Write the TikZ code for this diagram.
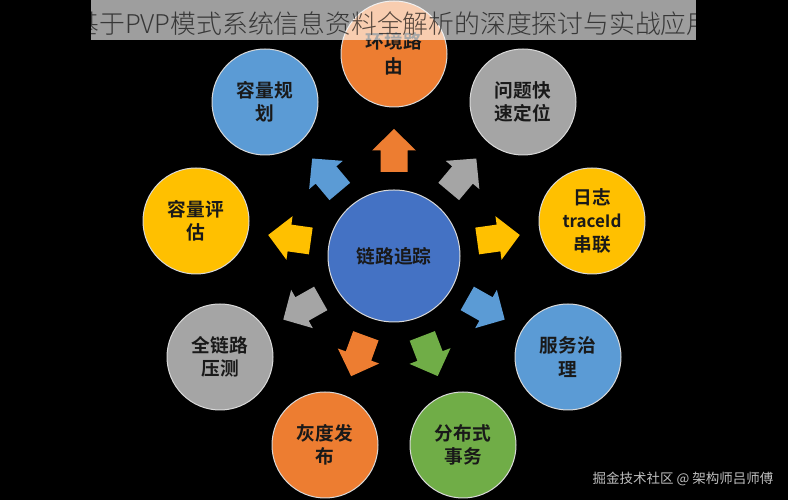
\documentclass[tikz,border=0pt]{standalone}
\usepackage{fontspec}
\setmainfont{Noto Sans CJK SC}
\newfontfamily\boldcjk{Noto Sans CJK SC Bold}
\newfontfamily\thincjk{Noto Sans CJK SC Light}
\usetikzlibrary{calc}
\definecolor{cOrange}{HTML}{ED7D31}
\definecolor{cBlue}{HTML}{5B9BD5}
\definecolor{cGray}{HTML}{A5A5A5}
\definecolor{cYellow}{HTML}{FFC000}
\definecolor{cGreen}{HTML}{70AD47}
\definecolor{cCenter}{HTML}{4472C4}
\tikzset{
	topic/.style={circle, draw=white!85!black, line width=1pt, minimum size=106pt, inner sep=0pt, align=center, text=black!90, font=\boldcjk\fontsize{18.7}{23.5}\selectfont},
	hub/.style={topic, minimum size=132pt},
}

\begin{document}
\begin{tikzpicture}[x=1pt, y=1pt]
			\useasboundingbox (0,0) rectangle (788,500);
			\fill[black] (0,0) rectangle (788,500);
			% outer ring
			\node[topic, fill=cOrange] (route) at (394,446) {环境路\\[1.5pt]由};
			\node[topic, fill=cBlue] (plan) at (265,398) {容量规\\划};
			\node[topic, fill=cGray] (locate) at (523,398) {问题快\\速定位};
			\node[topic, fill=cYellow] (assess) at (196,279) {容量评\\估};
			\node[topic, fill=cYellow] (trace) at (592,279) {日志\\{\fontsize{17}{23.5}\selectfont traceId}\\串联};
			\node[topic, fill=cGray] (stress) at (220,143) {全链路\\压测};
			\node[topic, fill=cBlue] (govern) at (568,143) {服务治\\理};
			\node[topic, fill=cOrange] (gray) at (325,55) {灰度发\\布};
			\node[topic, fill=cGreen] (txn) at (463,55) {分布式\\事务};
			\node[hub, fill=cCenter] (hub) at (394,244) {链路追踪};
			% block arrows
			\foreach \ax/\ay/\ang/\col in {394/349.5/90/cOrange, 326/325/130/cBlue, 462.5/325/50/cGray, 498.5/262/8/cYellow, 289.5/262/172/cYellow, 486/191/-29.5/cBlue, 302/191/209.5/cGray, 358.5/144/250/cOrange, 430/144/-69/cGreen}{
				\fill[\col, shift={(\ax,\ay)}, rotate=\ang] (-21.5,-13.5) -- (0,-13.5) -- (0,-22) -- (21.5,0) -- (0,22) -- (0,13.5) -- (-21.5,13.5) -- cycle;
			}
			% caption strip
			\fill[white, opacity=0.62] (91,460) rectangle (696,500);
			\begin{scope}
				\clip (91,460) rectangle (696,500);
				\node[text=black, opacity=0.65, inner sep=0pt, font=\thincjk\fontsize{25.8}{30}\selectfont] (caption) at (393,476) {基于PVP模式系统信息资料全解析的深度探讨与实战应用};
			\end{scope}
			\node[text=white!75!black, inner sep=0pt, font=\fontsize{13.5}{16}\selectfont] (credit) at (683,21) {掘金技术社区 @ 架构师吕师傅};
			\end{tikzpicture}
\end{document}
